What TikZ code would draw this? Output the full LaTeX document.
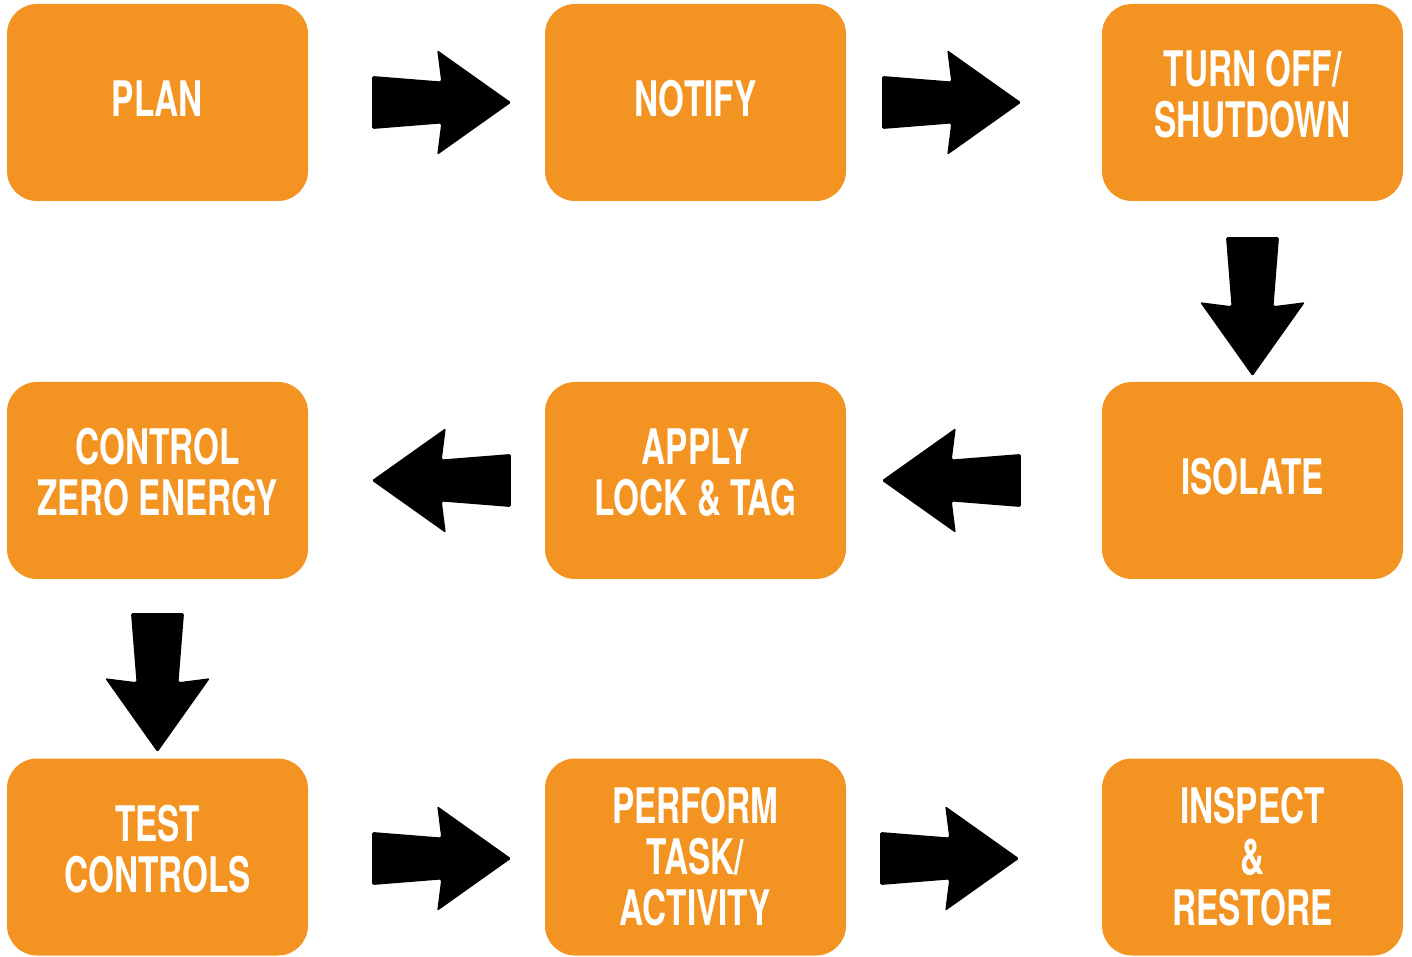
\documentclass[tikz,border=0pt]{standalone}
\usepackage{fontspec}
\newfontfamily\boxfont{TeX Gyre Heros}[FakeStretch=0.68]
\usetikzlibrary{calc}

\definecolor{lotoorange}{HTML}{F39322}

\tikzset{
  stepbox/.style={fill=lotoorange, rounded corners=30pt,
    minimum width=301pt, minimum height=197pt, inner sep=0pt,
    align=center, text=white,
    font={\boxfont\bfseries\fontsize{49}{51}\selectfont}},
  oneline/.style={text depth=8pt},
  twoline/.style={text depth=17pt},
  flowfill/.style={fill=black, rounded corners=1.5pt}
}

% block arrow: start point, direction
\newcommand{\flowarrow}[2]{%
  \fill[flowfill, shift={#1}, rotate=#2]
    (0,26.5) -- (69,21) -- (65,52.5) -- (139,0) -- (65,-52.5) -- (69,-21) -- (0,-26.5) -- cycle;}

\begin{document}
\begin{tikzpicture}[x=1pt,y=1pt]

\useasboundingbox (0,0) rectangle (1412,956);

% top row
\node[stepbox, oneline] (plan)    at (157.5,853.5)  {PLAN};
\node[stepbox, oneline] (notify)  at (695.5,853.5)  {NOTIFY};
\node[stepbox, twoline] (turnoff) at (1252.5,853.5) {TURN OFF/\\SHUTDOWN};

% middle row
\node[stepbox, twoline] (control) at (157.5,475.5)  {CONTROL\\ZERO ENERGY};
\node[stepbox, twoline] (apply)   at (695.5,475.5)  {APPLY\\LOCK \& TAG};
\node[stepbox, oneline] (isolate) at (1252.5,475.5) {ISOLATE};

% bottom row
\node[stepbox, twoline] (test)    at (157.5,99)     {TEST\\CONTROLS};
\node[stepbox] (perform) at (695.5,99)     {PERFORM\\TASK/\\ACTIVITY};
\node[stepbox] (inspect) at (1252.5,99)    {INSPECT\\\&\\RESTORE};

% arrows
\flowarrow{($(plan.east)+(64,0)$)}{0}
\flowarrow{($(notify.east)+(36,0)$)}{0}
\flowarrow{($(turnoff.south)+(0,-36)$)}{-90}
\flowarrow{($(isolate.west)+(-81,0)$)}{180}
\flowarrow{($(apply.west)+(-34,0)$)}{180}
\flowarrow{($(control.south)+(0,-34)$)}{-90}
\flowarrow{($(test.east)+(64,-1.5)$)}{0}
\flowarrow{($(perform.east)+(34,-1.5)$)}{0}

\end{tikzpicture}
\end{document}
